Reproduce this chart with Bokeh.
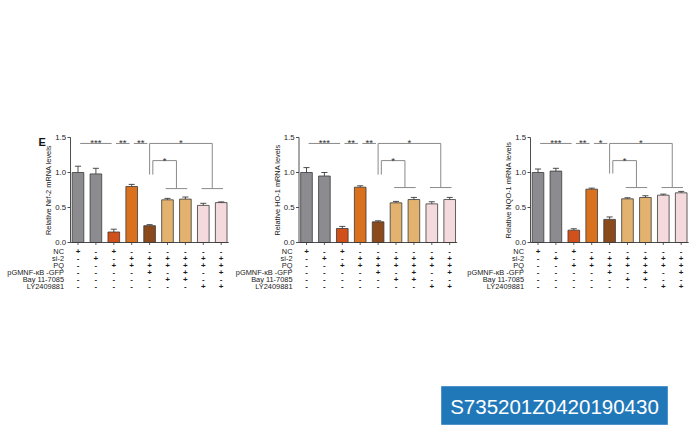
import numpy as np
from bokeh.plotting import figure
from bokeh.models import Range1d
from bokeh.core.properties import value
from bokeh.embed import file_html
from bokeh.resources import INLINE

# ---------------- data ----------------
row_labels = ["NC", "si-2", "PQ", "pGMNF-\u03baB -GFP", "Bay 11-7085", "LY2409881"]
row_signs = [
    ["+", "-", "+", "-", "-", "-", "-", "-", "-"],
    ["-", "+", "-", "+", "+", "+", "+", "+", "+"],
    ["-", "-", "+", "+", "+", "+", "+", "+", "+"],
    ["-", "-", "-", "-", "+", "-", "+", "-", "+"],
    ["-", "-", "-", "-", "-", "+", "+", "-", "-"],
    ["-", "-", "-", "-", "-", "-", "-", "+", "+"],
]
axis_titles = ["Relative Nrf-2 mRNA levels", "Relative HO-1 mRNA levels", "Relative NQO-1 mRNA levels"]

nrf2_mean = [1.00, 0.98, 0.15, 0.80, 0.24, 0.61, 0.62, 0.53, 0.57]
nrf2_err = [0.09, 0.08, 0.04, 0.03, 0.015, 0.02, 0.03, 0.03, 0.01]
ho1_mean = [1.00, 0.95, 0.20, 0.79, 0.295, 0.567, 0.614, 0.552, 0.614]
ho1_err = [0.07, 0.05, 0.03, 0.02, 0.015, 0.02, 0.03, 0.03, 0.03]
nqo1_mean = [1.00, 1.02, 0.176, 0.762, 0.33, 0.624, 0.643, 0.676, 0.71]
nqo1_err = [0.05, 0.04, 0.02, 0.015, 0.035, 0.015, 0.025, 0.015, 0.02]

bar_colors = ["#8c8c90", "#8c8c90", "#d2501a", "#d9711f", "#8a4a1c",
              "#e2b26e", "#e2b26e", "#f5dadd", "#f5dadd"]
y_ticks = [0.0, 0.5, 1.0, 1.5]

# significance: pairs of bars joined by a short line, with their stars
pair_links = [(0, 2), (2, 3), (3, 4)]
pair_stars = [["***", "**", "**"], ["***", "**", "**"], ["***", "**", "*"]]
bracket_stars = [["*", "*"], ["*", "*"], ["*", "*"]]
sig_level_top = 1.415
sig_level_mid = 1.17
stem_left_bottom = [0.97, 0.97, 0.985]
stem_right_bottom = [0.77, 0.785, 0.785]

series_means = [nrf2_mean, ho1_mean, nqo1_mean]
series_errs = [nrf2_err, ho1_err, nqo1_err]

stamp_text = "S735201Z0420190430"

# ---------------- layout helpers (page pixels -> data) ----------------
W, H = 700, 448
SLOT = 17.9        # pixels per bar slot
PPU = 70.0         # pixels per y unit
Y0_PAGE = 242.0    # page y of value 0


def px2x(px):
    return px / SLOT


def py2y(py):
    return (Y0_PAGE - py) / PPU


def dx(px):
    return px / SLOT


def dy(px):
    return px / PPU


FONT = value("Liberation Sans")

p = figure(width=W, height=H, x_range=Range1d(0, W / SLOT),
           y_range=Range1d(py2y(H), py2y(0)),
           toolbar_location=None, output_backend="svg",
           x_axis_location=None, y_axis_location=None, min_border=0)
p.grid.visible = False
p.outline_line_color = None
p.background_fill_color = "white"

# ---------------- panels ----------------
panel_first_bar = [px2x(77.5), px2x(306), px2x(537.5)]
row_y = [-0.125 - 0.1 * i for i in range(len(row_labels))]
n = len(nrf2_mean)
line_col = "#3a3a3a"
sig_col = "#8a8a8a"
txt_col = "#1a1a1a"
star_off = dy(0.5)


def stars_text(x, y, s):
    p.text(x=[x], y=[y + star_off], text=[s],
           text_font=FONT, text_font_size="9.5px", text_color="#333333",
           text_align="center", text_baseline="middle")


for k in range(3):
    off = panel_first_bar[k]
    xs = off + np.arange(n)
    means = np.array(series_means[k])
    errs = np.array(series_errs[k])
    ax = off - dx(7.5)

    # bars
    p.vbar(x=xs, top=means, bottom=0, width=0.65, fill_color=bar_colors,
           line_color=line_col, line_width=0.8)
    # error bars (upper)
    p.segment(x0=xs, y0=means, x1=xs, y1=means + errs, line_color=line_col, line_width=0.9)
    p.segment(x0=xs - 0.17, y0=means + errs, x1=xs + 0.17, y1=means + errs,
              line_color=line_col, line_width=0.9)

    # y axis
    p.segment(x0=[ax], y0=[y_ticks[0]], x1=[ax], y1=[y_ticks[-1]], line_color=line_col, line_width=0.9)
    p.segment(x0=[ax - dx(3)] * len(y_ticks), y0=y_ticks, x1=[ax] * len(y_ticks), y1=y_ticks,
              line_color=line_col, line_width=0.9)
    p.text(x=[ax - dx(4.5)] * len(y_ticks), y=y_ticks, text=["%.1f" % t for t in y_ticks],
           text_font=FONT, text_font_size="7.8px", text_color=txt_col,
           text_align="right", text_baseline="middle")
    p.text(x=[ax - dx(22)], y=[0.75], text=[axis_titles[k]], angle=np.pi / 2,
           text_font=FONT, text_font_size="7.4px", text_color=txt_col,
           text_align="center", text_baseline="middle")
    # x axis
    p.segment(x0=[ax], y0=[0], x1=[xs[-1] + 0.42], y1=[0], line_color=line_col, line_width=0.9)
    p.segment(x0=xs, y0=[0] * n, x1=xs, y1=[-dy(2.5)] * n, line_color=line_col, line_width=0.8)

    # condition table
    p.text(x=[ax - dx(6.5)] * len(row_labels), y=row_y, text=row_labels,
           text_font=FONT, text_font_size="7.4px", text_color=txt_col,
           text_align="right", text_baseline="middle")
    for r, signs in enumerate(row_signs):
        p.text(x=xs, y=[row_y[r]] * n, text=signs,
               text_font=FONT, text_font_size="8px", text_font_style="bold", text_color=txt_col,
               text_align="center", text_baseline="middle")

    # short significance lines
    for (a, b), s in zip(pair_links, pair_stars[k]):
        x0, x1 = xs[a] + 0.12, xs[b] - 0.12
        p.segment(x0=[x0], y0=[sig_level_top], x1=[x1], y1=[sig_level_top],
                  line_color=sig_col, line_width=1)
        stars_text((x0 + x1) / 2, sig_level_top, s)

    # big bracket: bar 4 vs bars 7-8
    bl = xs[4]
    br = xs[7] + 0.5
    p.multi_line(xs=[[bl, bl, br, br]],
                 ys=[[stem_left_bottom[k], sig_level_top, sig_level_top, stem_right_bottom[k]]],
                 line_color=sig_col, line_width=1)
    p.segment(x0=[xs[7] - 0.1], y0=[stem_right_bottom[k]], x1=[xs[8] + 0.1],
              y1=[stem_right_bottom[k]], line_color=sig_col, line_width=1)
    stars_text((bl + br) / 2, sig_level_top, bracket_stars[k][0])

    # small bracket: bar 4 vs bars 5-6
    sl = xs[4] + 0.18
    sr = xs[5] + 0.5
    p.multi_line(xs=[[sl, sl, sr, sr]],
                 ys=[[stem_left_bottom[k], sig_level_mid, sig_level_mid, stem_right_bottom[k]]],
                 line_color=sig_col, line_width=1)
    p.segment(x0=[xs[5] - 0.1], y0=[stem_right_bottom[k]], x1=[xs[6] + 0.1],
              y1=[stem_right_bottom[k]], line_color=sig_col, line_width=1)
    stars_text((sl + sr) / 2, sig_level_mid, bracket_stars[k][1])

# panel letter
p.text(x=[px2x(38)], y=[py2y(141)], text=["E"], text_font=FONT, text_font_style="bold",
       text_font_size="11px", text_color="#111111", text_align="left", text_baseline="alphabetic")

# stamp box
p.quad(left=[px2x(441)], right=[px2x(667)], top=[py2y(386)], bottom=[py2y(424)],
       fill_color="#2178b9", line_color="#4f92cc", line_width=1)
p.text(x=[px2x(554)], y=[py2y(405.5)], text=[stamp_text], text_font=FONT,
       text_font_size="20.5px", text_color="white", text_align="center", text_baseline="middle")

open("out.html", "w").write(file_html(p, INLINE))
